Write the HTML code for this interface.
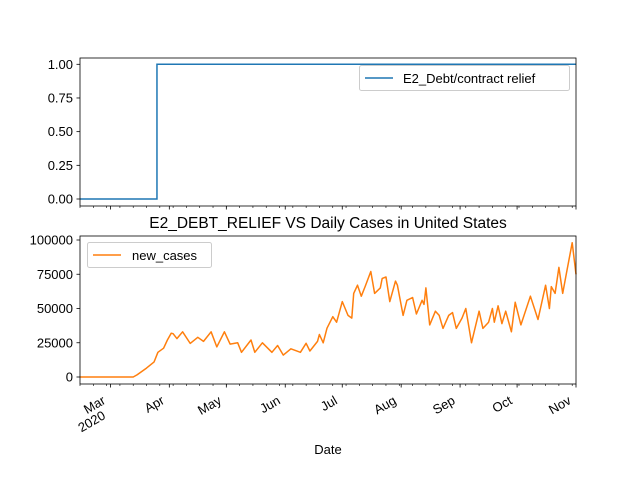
<!DOCTYPE html>
<html><head><meta charset="utf-8">
<style>
html,body{margin:0;padding:0;background:#fff;}
svg{display:block;font-family:"Liberation Sans","DejaVu Sans",sans-serif;}
</style></head>
<body>
<svg id="chart" width="640" height="480" viewBox="0 0 640 480"></svg>
<script>
// top series (policy indicator): day offsets from 2020-03-01 and values
const policyDays = [-16, 24.5, 245];
const policyValues = [0, 1, 1];
// bottom series: day offsets from 2020-03-01 and daily new cases
const caseDays = [-16,12,14,19,23,25,28,30,32,33,35,38,42,46,49,53,56,60,63,67,69,74,76,80,85,88,91,95,100,103,105,109,110,112,114,117,119,122,125,127,128,130,132,134,137,139,142,143,145,147,150,151,154,156,159,161,164,165,166,168,171,173,175,178,180,182,185,187,190,194,196,199,201,202,204,206,208,211,213,216,221,225,229,231,232,234,236,238,240,243,245];
const caseValues = [0,0,1500,6500,11000,18000,21000,27000,32000,31600,28000,33000,24500,29000,26000,33000,22000,33000,24000,25000,18000,27000,18000,25000,18000,23000,16000,20600,18000,24600,19000,26000,31000,25000,35600,44000,40000,55000,45000,43000,61000,67000,59000,66000,77000,61000,65000,72000,73000,55000,70000,67000,45000,56000,58000,46000,56000,53000,65000,38000,48000,45000,35500,45000,47000,35500,43000,50000,25000,48000,35500,40000,50000,40000,52000,39000,48000,33000,54500,38000,59000,42000,67000,50000,66000,61000,80000,61000,76000,98000,75000];
const topTicks = [0, 0.25, 0.5, 0.75, 1.0];
const topTickLabels = ["0.00","0.25","0.50","0.75","1.00"];
const botTicks = [0, 25000, 50000, 75000, 100000];
const botTickLabels = ["0","25000","50000","75000","100000"];
const monthDays = [0,31,61,92,122,153,184,214,245];
const monthLabels = ["Mar","Apr","May","Jun","Jul","Aug","Sep","Oct","Nov"];

const NS = "http://www.w3.org/2000/svg";
const svg = document.getElementById('chart');
function mk(tag, attrs, parent){
  const e = document.createElementNS(NS, tag);
  for (const k in attrs) e.setAttribute(k, attrs[k]);
  (parent||svg).appendChild(e);
  return e;
}
const X0 = 80, X1 = 576, D0 = -16, D1 = 245;
function xs(d){ return X0 + (d - D0) / (D1 - D0) * (X1 - X0); }
function yTop(v){ return 199 + (64.3 - 199) * v; }
function yBot(v){ return 377 + (240 - 377) * v / 100000; }

// ---- top axes ----
const gTop = mk('g', {});


let p = '';
for (let i = 0; i < policyDays.length; i++) {
  const x = xs(policyDays[i]), y = yTop(policyValues[i]);
  if (i === 0) p += 'M' + x + ',' + y;
  else { p += ' H' + x + ' V' + y; }
}
const topLine = mk('path', {d: p, fill: 'none', stroke: '#1f77b4', 'stroke-width': 1.5}, gTop);


mk('rect', {x: 80, y: 58, width: 496, height: 148, fill: 'none', stroke: '#000', 'stroke-width': 0.8}, gTop);
topTicks.forEach((v, i) => {
  const y = yTop(v);
  mk('line', {x1: 76.5, x2: 80, y1: y, y2: y, stroke: '#000', 'stroke-width': 0.8}, gTop);
  const t = mk('text', {x: 73, y: y + 4.5, 'text-anchor': 'end', 'font-size': 13, fill: '#000'}, gTop);
  t.textContent = topTickLabels[i];
  
  
});

// ---- bottom axes ----
const gBot = mk('g', {});


const cp = caseDays.map((d, i) => (i ? 'L' : 'M') + xs(d).toFixed(1) + ',' + yBot(caseValues[i]).toFixed(1)).join(' ');
const botLine = mk('path', {d: cp, fill: 'none', stroke: '#ff7f0e', 'stroke-width': 1.5, 'stroke-linejoin': 'round'}, gBot);


mk('rect', {x: 80, y: 236, width: 496, height: 148, fill: 'none', stroke: '#000', 'stroke-width': 0.8}, gBot);
botTicks.forEach((v, i) => {
  const y = yBot(v);
  mk('line', {x1: 76.5, x2: 80, y1: y, y2: y, stroke: '#000', 'stroke-width': 0.8}, gBot);
  const t = mk('text', {x: 73, y: y + 4.5, 'text-anchor': 'end', 'font-size': 13, fill: '#000'}, gBot);
  t.textContent = botTickLabels[i];
  
  
});

// x ticks: weekly minor ticks + monthly major ticks on both axes
for (let d = D0; d <= D1; d += 7) {
  const x = xs(d);
  mk('line', {x1: x, x2: x, y1: 206, y2: 208, stroke: '#000', 'stroke-width': 0.6});
  mk('line', {x1: x, x2: x, y1: 384, y2: 386, stroke: '#000', 'stroke-width': 0.6});
}
monthDays.forEach((d, i) => {
  const x = xs(d);
  mk('line', {x1: x, x2: x, y1: 206, y2: 209.5, stroke: '#000', 'stroke-width': 0.8});
  mk('line', {x1: x, x2: x, y1: 384, y2: 387.5, stroke: '#000', 'stroke-width': 0.8});
  const ax = x - 4, ay = 403;
  const t = mk('text', {x: ax, y: ay, 'text-anchor': 'end', 'font-size': 13, fill: '#000',
    transform: 'rotate(-30 ' + ax + ' ' + ay + ')'});
  t.textContent = monthLabels[i];
  
  
  if (i === 0) {
    const by = ay + 15;
    const t2 = mk('text', {x: ax, y: by, 'text-anchor': 'end', 'font-size': 13, fill: '#000',
      transform: 'rotate(-30 ' + ax + ' ' + by + ')'});
    t2.textContent = '2020';
    
    
  }
});
</script>
<div style="position:absolute;left:0;top:0;width:640px;height:480px;pointer-events:none;">
<svg width="640" height="480" style="position:absolute;left:0;top:0;font-family:'Liberation Sans','DejaVu Sans',sans-serif;">
  <g>
    <rect x="359.5" y="65.5" width="210" height="25" rx="2" fill="#fff" fill-opacity="0.8" stroke="#ccc"/>
    <line x1="365" x2="393" y1="78" y2="78" stroke="#1f77b4" stroke-width="1.5"/>
    <text x="403" y="83" font-size="13" fill="#000">E2_Debt/contract relief</text>
  </g>
  <text x="328" y="228" text-anchor="middle" font-size="15.5" fill="#000">E2_DEBT_RELIEF VS Daily Cases in United States</text>
  <g>
    <rect x="87.5" y="242.5" width="124" height="25" rx="2" fill="#fff" fill-opacity="0.8" stroke="#ccc"/>
    <line x1="93" x2="121" y1="255" y2="255" stroke="#ff7f0e" stroke-width="1.5"/>
    <text x="132" y="260" font-size="13" fill="#000">new_cases</text>
  </g>
  <text x="328" y="454" text-anchor="middle" font-size="13" fill="#000">Date</text>
</svg>
</div>
</body></html>
